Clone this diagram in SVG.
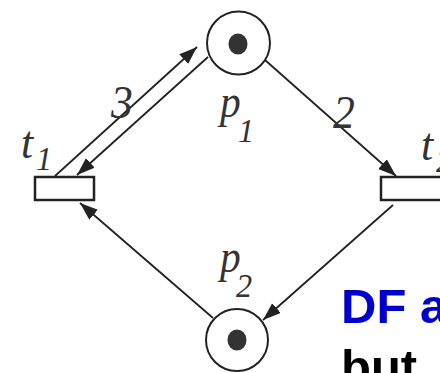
<svg xmlns="http://www.w3.org/2000/svg" width="440" height="373" viewBox="0 0 440 373">
  <style>
    .place { fill: #fff; stroke: #222; stroke-width: 2; }
    .token { fill: #333; }
    .trans { fill: #fff; stroke: #222; stroke-width: 2.5; }
    .arc { stroke: #222; stroke-width: 1.8; fill: none; marker-end: url(#ah); }
    .lbl { font-family: "Liberation Serif", "Times New Roman", serif; font-style: italic; fill: #333; }
    .big { font-size: 46px; }
    .sub { font-size: 34px; }
    .note { font-family: "Liberation Sans", Arial, sans-serif; font-weight: bold; font-size: 49px; }
  </style>
  <defs>
    <marker id="ah" markerUnits="userSpaceOnUse" markerWidth="19" markerHeight="14" refX="18" refY="6.5" orient="auto">
      <path d="M0,0 L18,6.5 L0,13 Z" fill="#222"/>
    </marker>
  </defs>

  <g id="connectors">
    <line class="arc" x1="55" y1="176" x2="197" y2="47"/>
    <line class="arc" x1="208" y1="57" x2="77" y2="175"/>
    <line class="arc" x1="265" y1="60" x2="396" y2="176"/>
    <line class="arc" x1="393" y1="205" x2="263" y2="320"/>
    <line class="arc" x1="213" y1="318" x2="80" y2="203"/>
    <text class="lbl big" transform="translate(111,118) scale(0.95,1)">3</text>
    <text class="lbl big" transform="translate(333,128) scale(0.95,1)">2</text>
  </g>

  <g id="p1">
    <circle class="place" cx="238.5" cy="43" r="31.5"/>
    <ellipse class="token" cx="238" cy="44" rx="9.5" ry="10.5"/>
    <text class="lbl big" transform="translate(220,117) scale(0.9,1)">p</text>
    <text class="lbl sub" transform="translate(238,142) scale(0.95,1)">1</text>
  </g>

  <g id="p2">
    <circle class="place" cx="237" cy="340" r="31"/>
    <ellipse class="token" cx="237" cy="340" rx="9.5" ry="10.5"/>
    <text class="lbl big" transform="translate(220,272) scale(0.9,1)">p</text>
    <text class="lbl sub" transform="translate(236,297) scale(0.95,1)">2</text>
  </g>

  <g id="t1">
    <rect class="trans" x="35" y="177" width="59" height="23"/>
    <text class="lbl big" transform="translate(21,158) scale(0.95,1)">t</text>
    <text class="lbl sub" transform="translate(36,170) scale(0.95,1)">1</text>
  </g>

  <g id="t2">
    <rect class="trans" x="381" y="177" width="65" height="23"/>
    <text class="lbl big" transform="translate(421,160) scale(0.95,1)">t</text>
    <text class="lbl sub" transform="translate(436,172) scale(0.95,1)">2</text>
  </g>

  <g id="note">
    <text class="note" x="341" y="323" fill="#0000cc">DF a</text>
    <text class="note" x="341" y="384" fill="#000">but</text>
  </g>
</svg>
